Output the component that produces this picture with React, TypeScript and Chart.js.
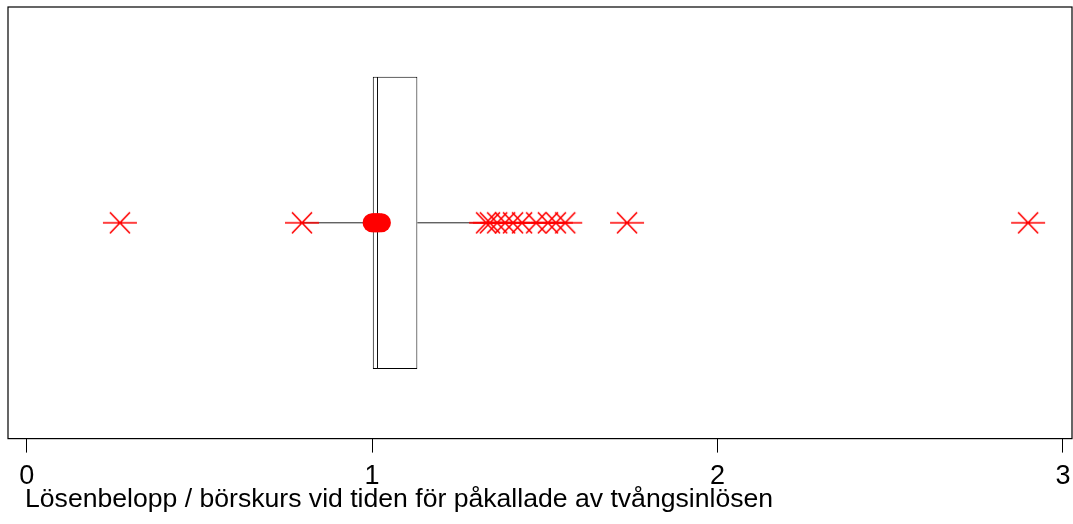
import React, { useEffect, useRef } from 'react';
import { Chart, registerables } from 'chart.js';

Chart.register(...registerables);

// ---- data ----
const categories = ['Lösen'];
const boxQ1 = 1.002;
const boxMedian = 1.017;
const boxQ3 = 1.131;
const whiskerLow = 0.797;
const whiskerHigh = 1.559;
const outlierValues = [0.27, 0.797, 1.33, 1.341, 1.362, 1.385, 1.408, 1.434, 1.475, 1.509, 1.532, 1.559, 1.738, 2.899];
const clusterValues = [1.0, 1.005, 1.01, 1.015, 1.02, 1.027];
const tickValues = [0, 1, 2, 3];
const axisMin = -0.054;
const axisMax = 3.029;
const axisTitle = 'Lösenbelopp / börskurs vid tiden för påkallade av tvångsinlösen';

const FONT = "'Liberation Sans', Arial, sans-serif";

function makeAsterisk(): HTMLCanvasElement {
  const c = document.createElement('canvas');
  c.width = 36;
  c.height = 24;
  const ctx = c.getContext('2d')!;
  ctx.strokeStyle = '#ff0000';
  ctx.lineWidth = 1.7;
  ctx.beginPath();
  ctx.moveTo(1, 12);
  ctx.lineTo(35, 12);
  ctx.moveTo(8, 1.5);
  ctx.lineTo(28, 22.5);
  ctx.moveTo(28, 1.5);
  ctx.lineTo(8, 22.5);
  ctx.stroke();
  return c;
}

const framePlugin = {
  id: 'frame',
  beforeDatasetsDraw(chart: any) {
    const { ctx, chartArea } = chart;
    ctx.save();
    ctx.strokeStyle = '#000';
    ctx.lineWidth = 1.2;
    ctx.strokeRect(chartArea.left, chartArea.top, chartArea.right - chartArea.left - 1, chartArea.bottom - chartArea.top);
    ctx.restore();
  },
};

export default function App() {
  const ref = useRef<HTMLCanvasElement>(null);

  useEffect(() => {
    if (!ref.current) return;
    Chart.defaults.font.family = FONT;
    const cat = categories[0];
    const star = makeAsterisk();
    const chart = new Chart(ref.current, {
      type: 'bar',
      data: {
        labels: categories,
        datasets: [
          {
            type: 'line',
            data: outlierValues.map((v) => ({ x: v, y: cat })),
            showLine: false,
            pointStyle: star as any,
            pointRadius: 12,
            pointHoverRadius: 12,
            borderColor: '#ff0000',
            backgroundColor: '#ff0000',
            order: 0,
          } as any,
          {
            type: 'line',
            data: clusterValues.map((v) => ({ x: v, y: cat })),
            showLine: false,
            pointStyle: 'circle',
            pointRadius: 9.5,
            pointHoverRadius: 9.5,
            pointBorderWidth: 0,
            borderColor: '#ff0000',
            backgroundColor: '#ff0000',
            order: 0,
          } as any,
          {
            type: 'line',
            data: [
              { x: whiskerLow, y: cat },
              { x: boxQ1, y: cat },
            ],
            borderColor: '#222',
            borderWidth: 1,
            pointRadius: 0,
            order: 1,
          } as any,
          {
            type: 'line',
            data: [
              { x: boxQ3, y: cat },
              { x: whiskerHigh, y: cat },
            ],
            borderColor: '#222',
            borderWidth: 1,
            pointRadius: 0,
            order: 1,
          } as any,
          {
            type: 'bar',
            data: [[boxQ1, boxMedian]],
            backgroundColor: '#ffffff',
            borderColor: '#000',
            borderWidth: 1,
            borderSkipped: false,
            grouped: false,
            barPercentage: 0.677,
            categoryPercentage: 1,
            order: 2,
          } as any,
          {
            type: 'bar',
            data: [[boxMedian, boxQ3]],
            backgroundColor: '#ffffff',
            borderColor: '#000',
            borderWidth: 1,
            borderSkipped: 'left',
            grouped: false,
            barPercentage: 0.677,
            categoryPercentage: 1,
            order: 3,
          } as any,
        ],
      },
      options: {
        indexAxis: 'y',
        animation: false,
        responsive: false,
        layout: { autoPadding: false, padding: { left: 8, top: 7, right: 0, bottom: 23 } },
        plugins: {
          legend: { display: false },
          tooltip: { enabled: false },
        },
        scales: {
          x: {
            type: 'linear',
            min: axisMin,
            max: axisMax,
            afterBuildTicks: (s: any) => {
              s.ticks = tickValues.map((v) => ({ value: v }));
            },
            afterFit: (s: any) => {
              s.paddingLeft = 0;
              s.paddingRight = 0;
            },
            ticks: {
              color: '#000',
              font: { size: 27, family: FONT },
              padding: 8,
              maxRotation: 0,
              autoSkip: false,
              callback: (v: any) => String(v),
            },
            grid: {
              drawOnChartArea: false,
              drawTicks: true,
              tickLength: 14,
              color: '#000',
              lineWidth: 1,
            },
            border: { display: false },
          },
          y: {
            type: 'category',
            display: false,
          },
        },
      } as any,
      plugins: [framePlugin],
    });
    return () => chart.destroy();
  }, []);

  return (
    <div style={{ position: 'absolute', left: 0, top: 0, width: 1073, height: 524, background: '#fff' }}>
      <canvas ref={ref} width={1073} height={524} style={{ display: 'block' }} />
      <div
        style={{
          position: 'absolute',
          left: 25,
          top: 482,
          fontFamily: FONT,
          fontSize: 26.6,
          lineHeight: '32px',
          color: '#000',
          whiteSpace: 'nowrap',
        }}
      >
        {axisTitle}
      </div>
    </div>
  );
}
